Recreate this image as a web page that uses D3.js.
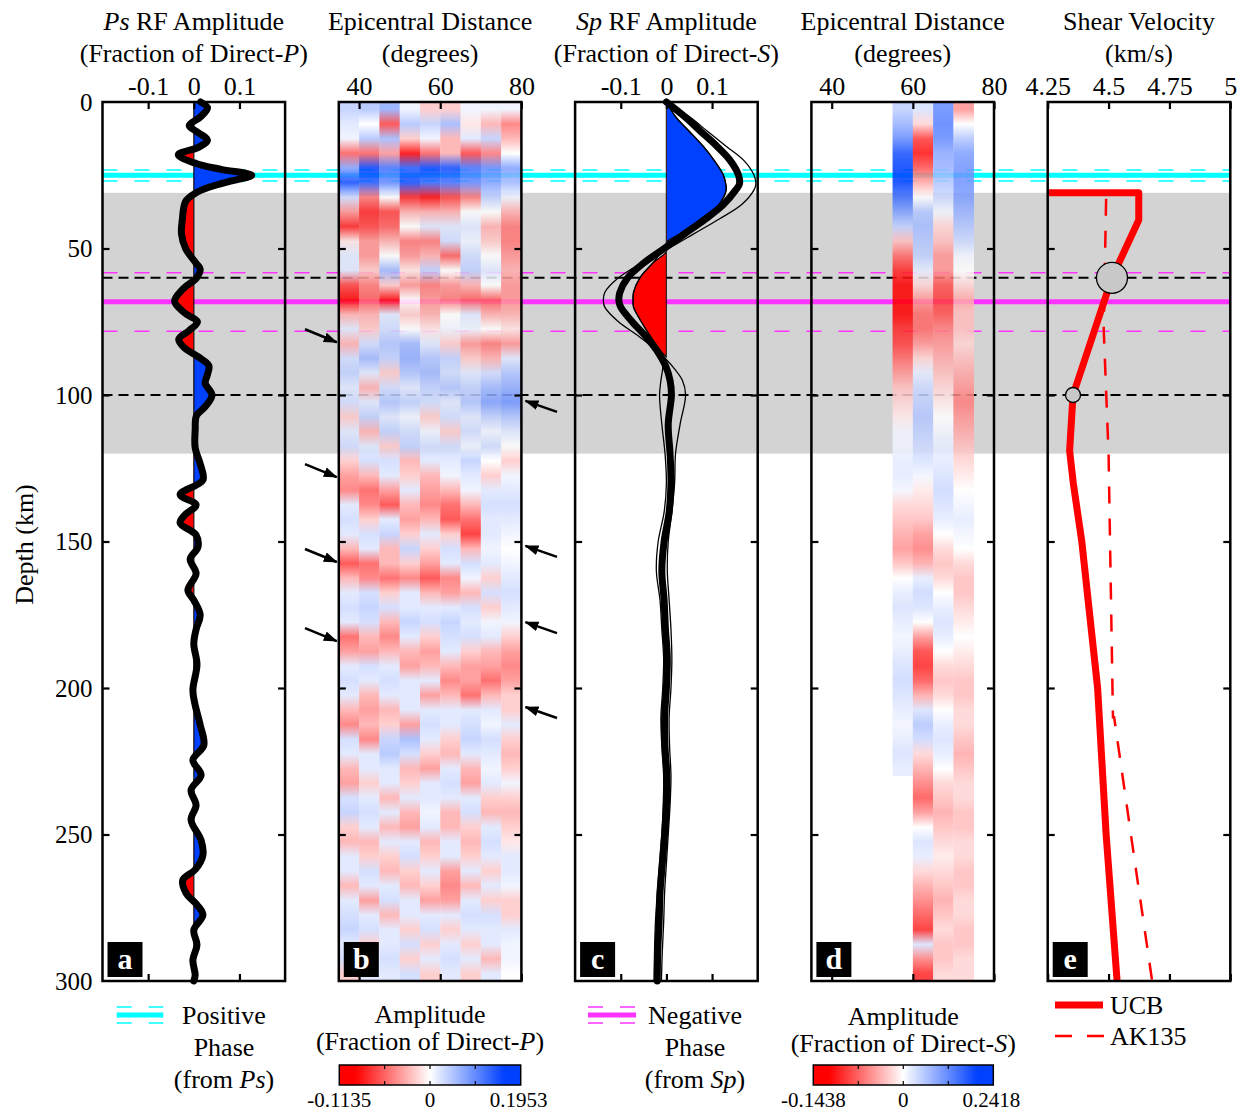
<!DOCTYPE html>
<html><head><meta charset="utf-8">
<script src="https://cdn.jsdelivr.net/npm/d3@7"></script>
<style>body{margin:0;background:#fff}</style>
</head><body><svg id="c" width="1244" height="1112"></svg>
<script>
// ---------------- DATA ----------------
const depthTicks = [0,50,100,150,200,250,300];
const tickA = [-0.1,0,0.1];
const tickDist = [40,60,80];
const tickVel = [4.25,4.5,4.75,5];

// Panel a: Ps RF stack (depth km, amplitude)
const aDepth = [0,2,5,8,10,13,15.5,18,21,23,25,27,29,31,34,40,45,50,55,57,60,64,68,72,75,78,81,84,87,90,93,96,100,104,107,112,118,124,129,134,137.5,141,143.7,147.8,152,156,161,166.6,170,175,180,185,192,200.7,205.8,212.6,219.5,224.6,229.7,234.8,240,245,252,257,262,265.5,270,274,277.5,282.6,287.7,292.8,298,300];
const aAmp = [0.015,0.03,0.015,-0.01,0.005,0.03,0.01,-0.034,0.005,0.06,0.127,0.08,0.035,0.005,-0.018,-0.025,-0.027,-0.018,0.005,0.014,0.006,-0.025,-0.042,-0.02,0.008,-0.01,-0.033,-0.02,0.01,0.033,0.03,0.025,0.04,0.025,0.006,0.003,0.003,0.015,0.02,-0.03,0.005,-0.02,-0.03,0.005,0.009,-0.008,0.005,-0.013,0,0.014,0.005,0,0.007,-0.002,0.003,0.014,0.022,-0.002,0.016,-0.006,0.005,-0.006,0.016,0.02,0.003,-0.024,-0.017,0.007,0.02,0,0.007,-0.002,0.003,0];

// Panel c: Sp RF stack
const cDepth = [0,5,10,15,20,25,28,30,35,40,45,50,55,60,65,68,70,75,80,85,90,95,100,110,120,130,140,150,160,170,180,190,200,210,220,230,240,250,260,270,280,290,300];
const cMean = [0,0.04,0.075,0.11,0.14,0.158,0.16,0.152,0.125,0.085,0.04,-0.005,-0.05,-0.085,-0.102,-0.104,-0.1,-0.075,-0.045,-0.02,-0.002,0.008,0.011,0.004,0.008,0.01,0.006,-0.005,-0.01,-0.005,-0.002,0.002,0,-0.004,-0.003,0.001,0,-0.004,-0.009,-0.014,-0.016,-0.019,-0.02];
const cThinA = [0,0.05,0.09,0.13,0.17,0.192,0.196,0.192,0.165,0.115,0.06,0.005,-0.055,-0.105,-0.135,-0.138,-0.135,-0.105,-0.06,-0.02,0.012,0.035,0.042,0.03,0.02,0.018,0.012,0.004,0.002,0.006,0.01,0.012,0.01,0.006,0.007,0.01,0.008,0.004,0.0,-0.004,-0.006,-0.009,-0.011];
const cThinB = [0,0.02,0.05,0.08,0.105,0.125,0.13,0.131,0.115,0.075,0.03,-0.005,-0.03,-0.058,-0.072,-0.073,-0.072,-0.055,-0.035,-0.015,-0.008,-0.012,-0.015,-0.01,-0.003,0,-0.005,-0.018,-0.022,-0.014,-0.01,-0.006,-0.008,-0.012,-0.01,-0.006,-0.007,-0.01,-0.015,-0.02,-0.024,-0.026,-0.027];
const cFillDepth = [0,5,10,15,20,25,28,30,35,40,45,48,51,55,60,65,68,70,75,80,85,87];
const cFillAmp = [0,0.02,0.05,0.08,0.105,0.125,0.13,0.131,0.115,0.075,0.03,0,0,-0.03,-0.058,-0.072,-0.073,-0.072,-0.055,-0.035,-0.012,0];

// Panel b: Ps amplitude binned by epicentral distance (rows: 5-km depth bins from 0 km; cols: distance bins)
const distB = [37.5,42.5,47.5,52.5,57.5,62.5,67.5,72.5,77.5];
const ampB = [
[0.04,0.05,0.07,0.01,-0.02,-0.02,0.01,0.01,0.01],
[0.02,0.0,-0.07,0.05,0.04,0.06,-0.01,-0.03,-0.05],
[0.01,0.05,0.06,-0.02,0.01,-0.03,0.02,0.04,-0.03],
[-0.06,-0.06,-0.04,-0.1,-0.06,-0.03,-0.07,-0.05,0.0],
[0.08,0.17,0.12,0.14,0.16,0.15,0.12,0.1,0.08],
[0.15,0.14,0.1,0.15,0.13,0.12,0.1,0.08,0.06],
[0.03,-0.05,0.0,-0.08,-0.09,-0.07,-0.05,0.04,0.01],
[-0.04,-0.08,-0.07,-0.03,-0.03,-0.03,0.0,0.0,-0.03],
[-0.08,-0.07,-0.06,0.0,0.02,0.02,0.02,-0.03,-0.05],
[-0.01,-0.04,-0.03,-0.05,-0.05,0.03,0.01,-0.02,-0.05],
[0.02,-0.04,0.0,-0.04,-0.03,-0.06,0.03,0.0,-0.04],
[0.02,-0.02,0.06,-0.01,0.04,0.0,0.04,0.02,-0.03],
[-0.07,-0.05,-0.02,-0.04,-0.05,-0.04,-0.03,0.0,-0.04],
[-0.1,-0.06,-0.09,0.0,-0.04,-0.05,-0.06,-0.06,-0.04],
[-0.03,-0.03,0.02,-0.02,-0.03,0.0,0.02,-0.03,-0.03],
[0.02,-0.02,0.03,0.0,-0.01,0.01,0.01,0.0,-0.01],
[-0.03,0.03,0.05,0.06,0.02,-0.02,-0.04,-0.05,-0.04],
[0.03,0.06,0.04,0.07,0.05,0.04,-0.02,-0.03,0.02],
[0.04,0.02,-0.02,0.05,0.06,0.03,0.02,0.03,0.05],
[0.02,-0.03,0.03,0.02,0.04,0.05,0.04,0.06,0.07],
[0.03,0.02,0.05,0.04,0.03,0.02,0.05,0.08,0.09],
[-0.02,0.04,0.02,0.01,-0.02,0.03,0.02,0.04,0.05],
[0.02,-0.03,0.04,0.03,0.01,-0.02,0.03,0.01,0.02],
[0.03,0.02,-0.02,0.04,0.03,0.03,0.01,0.03,0.0],
[-0.02,0.03,0.03,-0.03,0.02,0.02,0.04,0.0,-0.02],
[-0.04,-0.03,0.02,-0.02,-0.03,0.01,0.02,-0.02,0.01],
[-0.05,-0.06,-0.04,0.02,-0.04,-0.03,0.01,0.02,0.02],
[0.02,-0.05,-0.07,-0.03,-0.05,-0.06,-0.03,0.03,0.03],
[0.03,-0.02,0.02,-0.04,-0.03,-0.07,-0.06,0.02,0.02],
[0.02,0.03,0.04,-0.02,0.02,-0.02,-0.08,0.02,0.01],
[-0.03,0.02,-0.03,0.04,-0.02,0.03,-0.03,0.01,0.0],
[-0.07,-0.06,-0.03,-0.02,-0.04,0.02,0.03,0.02,0.01],
[-0.03,-0.05,-0.06,-0.05,-0.07,-0.05,0.01,-0.02,0.02],
[0.02,0.03,-0.02,0.02,-0.03,-0.04,-0.03,0.03,0.03],
[0.03,0.04,0.03,0.02,0.02,0.02,0.03,-0.02,0.02],
[0.02,0.03,-0.03,0.04,0.03,0.04,0.02,0.01,0.01],
[-0.06,-0.03,-0.05,0.02,-0.02,0.03,0.03,0.02,-0.02],
[-0.04,-0.04,-0.03,-0.03,-0.04,0.02,-0.02,-0.03,-0.04],
[0.02,0.03,0.02,-0.04,-0.03,-0.03,-0.04,-0.04,-0.05],
[0.03,0.02,0.03,0.02,0.02,-0.05,-0.04,-0.06,-0.04],
[0.02,-0.03,0.02,0.02,-0.04,-0.03,-0.06,-0.03,-0.02],
[-0.03,-0.04,-0.03,0.02,0.02,0.02,0.02,0.02,-0.02],
[-0.05,-0.03,-0.02,-0.04,0.03,0.02,0.03,0.01,0.02],
[0.03,-0.05,0.04,0.06,0.02,-0.02,0.04,0.03,-0.02],
[0.02,0.02,0.05,0.03,-0.02,-0.03,0.02,0.02,-0.03],
[-0.03,0.02,0.02,-0.03,-0.04,0.02,-0.03,0.01,-0.02],
[-0.04,-0.02,0.02,-0.02,0.02,0.03,-0.04,0.02,0.01],
[0.03,0.02,-0.03,0.02,0.02,0.02,0.02,-0.02,-0.02],
[0.04,0.03,0.02,-0.03,0.01,-0.03,0.03,-0.03,-0.03],
[-0.02,0.02,-0.03,-0.04,0.02,-0.03,-0.02,0.02,-0.02],
[-0.03,-0.03,0.02,0.02,-0.03,0.02,-0.03,0.03,-0.01],
[0.02,-0.02,-0.02,0.03,-0.02,0.02,-0.02,0.02,0.02],
[0.02,0.03,-0.03,-0.02,0.02,-0.04,0.02,-0.02,0.02],
[-0.03,0.02,0.02,-0.03,-0.02,-0.05,-0.03,0.02,0.01],
[0.02,-0.04,0.03,0.02,-0.04,-0.04,0.02,-0.02,-0.02],
[0.03,0.02,-0.03,0.02,0.02,0.02,0.03,0.03,-0.02],
[0.04,0.03,0.02,-0.02,0.03,-0.02,0.02,0.02,0.02],
[0.02,-0.02,0.02,0.03,-0.02,0.02,-0.02,0.02,0.01],
[0.03,0.02,0.03,-0.02,0.02,0.03,0.02,-0.03,0.01],
[-0.02,0.02,0.02,0.03,-0.02,0.02,-0.02,0.02,0.0]
];

// Panel d: Sp amplitude by distance bin (5-km depth bins; null = no data)
const distD = [57.5,62.5,67.5,72.5];
const ampD55 = [0.05,0.08,0.12,0.18,0.22,0.2,0.15,0.1,0.05,-0.03,-0.07,-0.1,-0.13,-0.14,-0.12,-0.1,-0.09,-0.07,-0.05,-0.03,-0.02,-0.01,0.01,0.01,0.02,0.02,0.01,-0.02,-0.03,-0.04,-0.05,-0.03,0.0,0.02,0.03,0.02,0.01,0.02,0.03,0.04,0.03,0.02,0.01,0.02,0.03,0.02,null,null,null,null,null,null,null,null,null,null,null,null,null,null];
const ampD60 = [0.03,-0.02,-0.09,-0.11,-0.08,-0.04,0.0,0.06,0.07,0.06,0.05,0.02,-0.02,-0.05,-0.07,-0.07,-0.05,-0.02,0.02,0.04,0.05,0.06,0.05,0.04,0.03,0.01,-0.01,-0.02,-0.03,-0.05,-0.06,-0.04,0.02,0.04,0.03,0.0,-0.05,-0.09,-0.1,-0.08,-0.04,0.03,0.06,0.04,-0.02,-0.04,-0.06,-0.08,-0.05,0.0,0.03,0.02,-0.02,-0.04,-0.06,-0.08,-0.1,0.03,-0.06,-0.1];
const ampD65 = [0.12,0.13,0.12,0.09,0.08,0.06,0.04,0.01,-0.02,-0.03,-0.05,-0.05,-0.08,-0.09,-0.08,-0.06,-0.05,-0.04,-0.03,-0.02,-0.01,0.0,0.01,0.02,0.02,0.03,0.04,0.03,0.02,0.0,-0.02,-0.03,-0.02,0.0,0.02,0.03,0.02,0.0,-0.02,-0.03,-0.02,0.0,0.02,0.03,0.02,0.0,-0.02,-0.03,-0.04,-0.03,-0.02,-0.01,-0.02,-0.03,-0.04,-0.03,-0.02,-0.03,-0.03,-0.02];
const ampD70 = [-0.05,0.0,0.06,0.1,0.11,0.11,0.1,0.08,0.06,0.04,0.01,0.0,-0.02,-0.04,-0.03,-0.03,-0.02,-0.03,-0.04,-0.05,-0.06,-0.05,-0.04,-0.03,-0.02,-0.01,0.0,0.01,0.02,0.01,0.0,-0.02,-0.03,-0.03,-0.02,-0.01,0.0,-0.01,-0.02,-0.03,-0.03,-0.02,-0.02,-0.03,-0.04,-0.03,-0.02,-0.02,-0.03,-0.03,-0.02,-0.02,-0.03,-0.03,-0.02,-0.02,-0.03,-0.03,-0.02,-0.02];

// Panel e: shear velocity profiles
const ucbDepth = [31,31,40.3,60,100,119,130,150,200,250,300];
const ucbVs = [4.25,4.624,4.624,4.514,4.354,4.34,4.355,4.39,4.455,4.49,4.535];
const akDepth = [33,77.5,120,165,210,210,260,300];
const akVs = [4.49,4.48,4.50,4.509,4.518,4.523,4.609,4.679];
const markDepth = [60,100];
const markVs = [4.514,4.354];
const markR = [15.5,7.5];

// Interpreted layers
const grayBand = [31,120];
const posPhase = 25, posLo = 23.2, posHi = 27.0;
const negPhase = 68.2, negLo = 58.3, negHi = 78.2;
const blackDash = [60,100];
const arrowLeft = [82,128,157,184];
const arrowRight = [102,151.5,177.5,206.5];
const cbarB = [-0.1135,0,0.1953];
const cbarD = [-0.1438,0,0.2418];

// ---------------- DRAWING ----------------
const F = '"Liberation Serif","Times New Roman",serif';
const FS = 26;
const svg = d3.select('#c').attr('font-family',F);
const W = 182.6, L = [0,1,2,3,4].map(i=>102.5+i*236.3);
const TOP = 102, BOT = 981;
const y = d3.scaleLinear().domain([0,300]).range([TOP,BOT]);
const xs = [
  d3.scaleLinear().domain([-0.2,0.2]).range([L[0],L[0]+W]),
  d3.scaleLinear().domain([35,80]).range([L[1],L[1]+W]),
  d3.scaleLinear().domain([-0.2,0.2]).range([L[2],L[2]+W]),
  d3.scaleLinear().domain([35,80]).range([L[3],L[3]+W]),
  d3.scaleLinear().domain([4.25,5]).range([L[4],L[4]+W])];
const RED='#ff0000', BLUE='#0040ff', CYAN='#00ffff', MAG='#ff33ff';
function divColor(vmin,vmax){
  return d3.scaleLinear().domain([vmin,vmin*0.82,0,vmax*0.82,vmax])
    .range([RED,RED,'#ffffff',BLUE,BLUE]).clamp(true);
}
const colB = divColor(cbarB[0],cbarB[2]);
const colD = divColor(cbarD[0],cbarD[2]);
const X0 = L[0], X1 = L[4]+W;
const defs = svg.append('defs');

// gray band
svg.append('rect').attr('x',X0).attr('width',X1-X0).attr('y',y(grayBand[0])).attr('height',y(grayBand[1])-y(grayBand[0])).attr('fill','#d3d3d3');

// horizontal lines
function hline(d,color,w,dash){
  const l = svg.append('line').attr('x1',X0).attr('x2',X1).attr('y1',y(d)).attr('y2',y(d))
    .attr('stroke',color).attr('stroke-width',w);
  if(dash) l.attr('stroke-dasharray',dash);
}
hline(posPhase,CYAN,5); hline(posLo,CYAN,1.5,'15,17'); hline(posHi,CYAN,1.5,'15,17');
hline(negPhase,MAG,5); hline(negLo,MAG,1.5,'15,17'); hline(negHi,MAG,1.5,'15,17');
blackDash.forEach(d=>hline(d,'#000',2,'10,6'));

// heatmap columns: one rect per distance bin, coloured by depth bins (vertical gradient between bin centres)
const bins = d3.range(0,300,5);
function heatColumn(g,xScale,dist,vals,col,id){
  const valid = vals.map((v,k)=>v===null?-1:k).filter(k=>k>=0);
  const kEnd = valid[valid.length-1];
  const d0 = 0, d1 = bins[kEnd]+5;
  const grad = defs.append('linearGradient').attr('id',id).attr('gradientUnits','userSpaceOnUse')
    .attr('x1',0).attr('x2',0).attr('y1',y(d0)).attr('y2',y(d1));
  valid.forEach(k=>grad.append('stop').attr('offset',((bins[k]+2.5)-d0)/(d1-d0)).attr('stop-color',col(vals[k])));
  g.append('rect').attr('x',xScale(dist-2.5)).attr('width',xScale(dist+2.5)-xScale(dist-2.5)+0.3)
    .attr('y',y(d0)).attr('height',y(d1)-y(d0)).attr('fill',`url(#${id})`);
}
const gB = svg.append('g').attr('opacity',0.86);
distB.forEach((dist,i)=>heatColumn(gB,xs[1],dist,ampB.map(r=>r[i]),colB,'hb'+i));
const gD = svg.append('g').attr('opacity',0.86);
[ampD55,ampD60,ampD65,ampD70].forEach((col,i)=>heatColumn(gD,xs[3],distD[i],col,colD,'hd'+i));

// clip paths for fills
function clips(i,name){
  defs.append('clipPath').attr('id',name+'P').append('rect').attr('x',xs[i](0)).attr('y',TOP).attr('width',L[i]+W-xs[i](0)).attr('height',BOT-TOP);
  defs.append('clipPath').attr('id',name+'N').append('rect').attr('x',L[i]).attr('y',TOP).attr('width',xs[i](0)-L[i]).attr('height',BOT-TOP);
}
clips(0,'ca'); clips(2,'cc');
const curve = d3.curveCatmullRom.alpha(0.5);
function fillPair(i,depths,amps,name){
  const pts = depths.map((d,j)=>[d,amps[j]]);
  const area = d3.area().curve(curve).y(p=>y(p[0])).x0(xs[i](0)).x1(p=>xs[i](p[1]));
  svg.append('path').attr('d',area(pts)).attr('fill',BLUE).attr('stroke','#000').attr('stroke-width',1.2).attr('clip-path',`url(#${name}P)`);
  svg.append('path').attr('d',area(pts)).attr('fill',RED).attr('stroke','#000').attr('stroke-width',1.2).attr('clip-path',`url(#${name}N)`);
}
function trace(i,depths,amps,w){
  const pts = depths.map((d,j)=>[d,amps[j]]);
  const line = d3.line().curve(curve).y(p=>y(p[0])).x(p=>xs[i](p[1]));
  svg.append('path').attr('d',line(pts)).attr('fill','none').attr('stroke','#000').attr('stroke-width',w).attr('stroke-linecap','round');
}
fillPair(0,aDepth,aAmp,'ca');
trace(0,aDepth,aAmp,7);
fillPair(2,cFillDepth,cFillAmp,'cc');
trace(2,cDepth,cThinA,1.3);
trace(2,cDepth,cThinB,1.3);
trace(2,cDepth,cMean,7);

// panel e
const vLine = d3.line().x(p=>xs[4](p[1])).y(p=>y(p[0]));
svg.append('path').attr('d',vLine(akDepth.map((d,j)=>[d,akVs[j]]))).attr('fill','none').attr('stroke',RED).attr('stroke-width',2.5).attr('stroke-dasharray','17,15');
svg.append('path').attr('d',vLine(ucbDepth.map((d,j)=>[d,ucbVs[j]]))).attr('fill','none').attr('stroke',RED).attr('stroke-width',7).attr('stroke-linejoin','round');
markDepth.forEach((d,j)=>svg.append('circle').attr('cx',xs[4](markVs[j])).attr('cy',y(d)).attr('r',markR[j]).attr('fill','#c8c8c8').attr('stroke','#000').attr('stroke-width',1.3));

// axes / frames
const fmt = d=>String(d);
const topTicks = [tickA,tickDist,tickA,tickDist,tickVel];
for(let i=0;i<5;i++){
  const gt = svg.append('g').attr('transform',`translate(0,${TOP})`).call(d3.axisTop(xs[i]).tickValues(topTicks[i]).tickSize(-7).tickPadding(7).tickFormat(fmt));
  const gb = svg.append('g').attr('transform',`translate(0,${BOT})`).call(d3.axisBottom(xs[i]).tickValues(topTicks[i]).tickSize(-7).tickFormat(''));
  const gl = svg.append('g').attr('transform',`translate(${L[i]},0)`).call(d3.axisLeft(y).tickValues(depthTicks.slice(1,-1)).tickSize(-7).tickFormat(''));
  const gr = svg.append('g').attr('transform',`translate(${L[i]+W},0)`).call(d3.axisRight(y).tickValues(depthTicks.slice(1,-1)).tickSize(-7).tickFormat(''));
  [gt,gb,gl,gr].forEach(g=>{g.attr('font-family',F).attr('font-size',FS); g.select('.domain').remove(); g.selectAll('line').attr('stroke-width',2.2);});
  gt.selectAll('text').attr('fill','#000');
  svg.append('rect').attr('x',L[i]).attr('y',TOP).attr('width',W).attr('height',BOT-TOP).attr('fill','none').attr('stroke','#000').attr('stroke-width',2.5);
}
const gy = svg.append('g').attr('transform',`translate(${L[0]},0)`).call(d3.axisLeft(y).tickValues(depthTicks).tickSize(0).tickPadding(10));
gy.attr('font-family',F).attr('font-size',25); gy.select('.domain').remove(); gy.selectAll('text').attr('fill','#000');
svg.append('text').attr('transform',`translate(33,${(TOP+BOT)/2+3}) rotate(-90)`).attr('text-anchor','middle').attr('font-size',FS).text('Depth (km)');

// titles
const titles = [
  [[['Ps',1],[' RF Amplitude',0]],[['(Fraction of Direct-',0],['P',1],[')',0]]],
  [[['Epicentral Distance',0]],[['(degrees)',0]]],
  [[['Sp',1],[' RF Amplitude',0]],[['(Fraction of Direct-',0],['S',1],[')',0]]],
  [[['Epicentral Distance',0]],[['(degrees)',0]]],
  [[['Shear Velocity',0]],[['(km/s)',0]]]];
function richText(x,yy,parts,size,anchor){
  const t = svg.append('text').attr('x',x).attr('y',yy).attr('text-anchor',anchor||'middle').attr('font-size',size);
  parts.forEach(p=>t.append('tspan').attr('font-style',p[1]?'italic':'normal').text(p[0]));
  return t;
}
titles.forEach((tl,i)=>{ richText(L[i]+W/2,30,tl[0],FS); richText(L[i]+W/2,62,tl[1],FS); });

// panel letters
['a','b','c','d','e'].forEach((s,i)=>{
  svg.append('rect').attr('x',L[i]+5).attr('y',942).attr('width',35).attr('height',35).attr('fill','#000');
  svg.append('text').attr('x',L[i]+22.5).attr('y',969).attr('text-anchor','middle').attr('fill','#fff').attr('font-weight','bold').attr('font-size',30).text(s);
});

// arrows
defs.append('marker').attr('id','ah').attr('markerUnits','userSpaceOnUse').attr('viewBox','0 0 14 10').attr('refX',13).attr('refY',5)
  .attr('markerWidth',14).attr('markerHeight',10).attr('orient','auto').append('path').attr('d','M0,0 L14,5 L0,10 Z').attr('fill','#000');
arrowLeft.forEach(d=>svg.append('line').attr('x1',305).attr('y1',y(d)-13).attr('x2',L[1]-2).attr('y2',y(d)).attr('stroke','#000').attr('stroke-width',2.5).attr('marker-end','url(#ah)'));
arrowRight.forEach(d=>svg.append('line').attr('x1',557).attr('y1',y(d)+11).attr('x2',L[1]+W+4).attr('y2',y(d)).attr('stroke','#000').attr('stroke-width',2.5).attr('marker-end','url(#ah)'));

// phase legends
function phaseLegend(x1,x2,color,cx,lines){
  svg.append('line').attr('x1',x1).attr('x2',x2).attr('y1',1015).attr('y2',1015).attr('stroke',color).attr('stroke-width',5);
  [1007,1023].forEach(yy=>svg.append('line').attr('x1',x1).attr('x2',x2).attr('y1',yy).attr('y2',yy).attr('stroke',color).attr('stroke-width',1.5).attr('stroke-dasharray','15,17'));
  lines.forEach((ln,k)=>richText(cx,1024+k*32,ln,FS));
}
phaseLegend(116.7,163.3,CYAN,224,[[['Positive',0]],[['Phase',0]],[['(from ',0],['Ps',1],[')',0]]]);
phaseLegend(588,636,MAG,695,[[['Negative',0]],[['Phase',0]],[['(from ',0],['Sp',1],[')',0]]]);

// colorbars
function colorbar(x1,x2,cb,col,id,wave,ty){
  const g = defs.append('linearGradient').attr('id',id);
  d3.range(0,1.0001,0.02).forEach(t=>{
    const v = t<0.5 ? cb[0]*(1-2*t) : cb[2]*(2*t-1);
    g.append('stop').attr('offset',t).attr('stop-color',col(v));
  });
  svg.append('rect').attr('x',x1).attr('y',1065).attr('width',x2-x1).attr('height',20).attr('fill',`url(#${id})`).attr('stroke','#000').attr('stroke-width',1.5);
  [0.25,0.5,0.75].forEach(t=>{
    const xx = x1+(x2-x1)*t;
    svg.append('line').attr('x1',xx).attr('x2',xx).attr('y1',1065).attr('y2',1069).attr('stroke','#000').attr('stroke-width',1.2);
    svg.append('line').attr('x1',xx).attr('x2',xx).attr('y1',1081).attr('y2',1085).attr('stroke','#000').attr('stroke-width',1.2);
  });
  const cx = (x1+x2)/2;
  richText(cx,ty,[['Amplitude',0]],FS);
  richText(cx,ty+27,[['(Fraction of Direct-',0],[wave,1],[')',0]],FS);
  richText(x1,1107,[[String(cb[0]),0]],21);
  richText(cx,1107,[['0',0]],21);
  richText(x2-2,1107,[[String(cb[2]),0]],21);
}
colorbar(339.3,520.7,cbarB,colB,'gb','P',1023);
colorbar(813.3,993.3,cbarD,colD,'gd','S',1025);

// velocity legend
svg.append('line').attr('x1',1055).attr('x2',1103).attr('y1',1005).attr('y2',1005).attr('stroke',RED).attr('stroke-width',7);
svg.append('line').attr('x1',1055).attr('x2',1104).attr('y1',1036).attr('y2',1036).attr('stroke',RED).attr('stroke-width',2.5).attr('stroke-dasharray','17,15');
richText(1110,1014,[['UCB',0]],FS,'start');
richText(1110,1045,[['AK135',0]],FS,'start');
</script></body></html>
